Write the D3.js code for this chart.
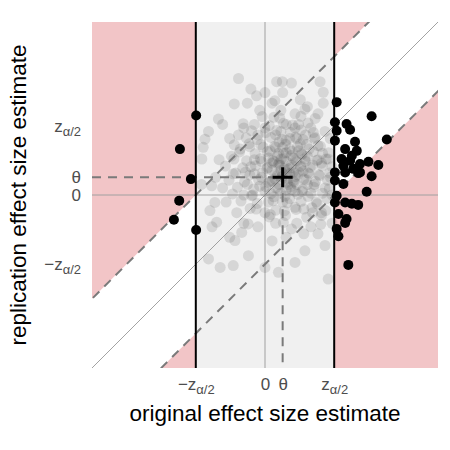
<!DOCTYPE html>
<html>
<head>
<meta charset="utf-8">
<script src="https://cdn.jsdelivr.net/npm/d3@7"></script>
<style>
  body { margin: 0; background: #fff; }
  text { font-family: "Liberation Sans", Arial, sans-serif; }
</style>
</head>
<body>
<svg id="chart" width="450" height="450"></svg>
<script>
// critical value and true effect
const zCrit = 1.96;
const theta = 0.5;
const band = 1.96; // half width of replication band around y = x

// non-significant originals (grey cloud)
const nonsigPoints = [
  [-0.75,3.30],[-0.40,3.00],[0.33,3.21],[0.49,3.21],[0.75,3.17],[1.56,3.21],[1.65,2.91],[-0.87,2.58],[-0.24,2.81],[0.28,2.67],
  [-1.32,2.15],[-1.70,1.58],[-1.75,1.35],[-1.79,1.02],[-1.51,0.26],[-1.42,-0.21],[-1.56,-0.44],[-1.37,-0.77],[-1.60,-1.81],[-1.27,-2.05],
  [-0.90,-2.00],[-0.47,-1.72],[0.00,-2.05],[0.38,-2.19],[0.85,-1.91],[1.13,-1.58],[1.70,-1.43],[1.79,-2.38],[-0.66,-1.06],[-0.85,-1.29],
  [0.75,-0.96],[1.60,-0.58],[1.79,1.02],[1.13,2.43],
  [0.5,0.6],[0.2,0.9],[0.8,0.4],[0.6,1.2],[0.3,0.2],[1.0,0.8],[-0.1,0.5],[0.7,-0.1],[1.2,1.1],[0.4,1.5],
  [-0.3,1.0],[0.9,1.6],[1.4,0.3],[0.1,-0.2],[-0.5,0.3],[1.1,-0.4],[0.6,2.0],[-0.2,1.7],[1.5,1.4],[0.0,0.1],
  [0.35,0.55],[0.75,0.85],[0.15,1.25],[1.25,0.6],[-0.4,0.8],[0.55,-0.45],[0.95,1.25],[-0.05,1.35],[1.6,0.9],[0.45,0.05],
  [-0.7,1.3],[-0.6,0.0],[1.7,0.2],[0.25,2.2],[0.85,2.3],[-0.9,0.6],[1.3,1.9],[0.65,0.3],[0.05,0.75],[1.05,0.1],
  [-0.25,-0.4],[0.3,-0.8],[0.9,-0.8],[1.45,-0.2],[1.8,1.2],[-1.0,1.6],[-0.3,2.0],[0.2,2.6],[1.0,2.7],[1.5,2.3],
  [-1.2,0.2],[-0.8,-0.5],[0.6,-1.2],[1.3,-0.9],[1.85,0.5],[-1.3,1.0],[-0.6,1.9],[0.5,2.9],[1.2,2.5],[1.7,1.8],
  [0.4,0.9],[0.7,0.6],[0.9,0.3],[0.2,0.4],[0.6,0.95],[1.1,0.45],[0.35,1.1],[0.8,1.05],[0.5,1.35],[1.0,1.45],
  [0.1,1.05],[-0.15,0.25],[0.25,-0.05],[0.75,0.15],[1.35,0.85],[1.55,0.55],[0.0,1.9],[0.45,1.8],[1.15,1.7],[-0.45,1.45],
  [-0.55,0.65],[0.85,-0.35],[0.15,-0.55],[1.6,-0.5],[1.9,0.0],[-1.1,-0.2],[-0.2,-0.9],[0.7,1.6],[0.3,1.7],[1.25,1.3],
  [0.55,0.75],[0.65,0.45],[0.4,0.3],[0.95,0.65],[0.2,0.7],[1.15,0.95],[0.85,1.9],[-0.1,0.95],[0.5,-0.2],[1.4,1.6],
  [1.9,0.8],[1.75,-0.1],[-0.35,0.0],[0.0,-0.5],[1.1,-1.1],[-0.75,1.7],[-1.4,0.5],[-1.6,1.8],[0.95,2.0],[1.65,2.6],
  [-0.95,1.1],[1.85,1.6],[0.6,1.55],[-0.15,2.4],[0.45,2.4],[1.3,0.05],[0.1,0.35],[0.8,0.65],[0.3,1.35],[0.9,0.95],
  [1.2,0.3],[0.6,0.15],[1.5,1.0],[-0.3,0.6],[0.7,1.3],[0.25,0.95],[1.05,1.15],[0.45,0.7],[0.85,0.1],[1.35,-0.5],
  [-0.6,-0.8],[-1.0,-1.2],[0.2,-1.3],[1.5,-1.1],[-1.5,-0.9],[-1.8,0.3],[1.9,-0.8],[-1.2,2.0],[0.0,2.9],[-0.5,2.6],
  [-0.42,-0.38],[0.31,-0.43],[0.88,-0.41],[1.33,-0.36],[1.72,-0.44],
  [-0.68,-0.17],[-0.22,-0.24],[0.23,-0.16],[0.63,-0.22],[1.02,-0.18],[1.48,-0.25],
  [-0.92,0.03],[-0.38,-0.02],[0.17,0.04],[0.57,-0.03],[0.93,0.02],[1.22,-0.04],[1.63,0.05],
  [-0.78,0.22],[-0.32,0.17],[0.02,0.24],[0.37,0.18],[0.72,0.23],[1.07,0.16],[1.38,0.22],[1.82,0.18],
  [-1.02,0.42],[-0.58,0.37],[-0.18,0.43],[0.13,0.38],[0.47,0.44],[0.82,0.37],[1.17,0.43],[1.43,0.38],[1.77,0.42],
  [-0.83,0.62],[-0.43,0.57],[-0.07,0.63],[0.28,0.58],[0.62,0.64],[0.92,0.57],[1.22,0.63],[1.52,0.58],[1.83,0.62],
  [-1.12,0.82],[-0.63,0.77],[-0.27,0.83],[0.08,0.78],[0.43,0.84],[0.72,0.77],[1.02,0.83],[1.28,0.78],[1.62,0.82],
  [-0.88,1.02],[-0.52,0.97],[-0.13,1.03],[0.22,0.98],[0.53,1.04],[0.87,0.97],[1.13,1.03],[1.47,0.98],[1.73,1.02],
  [-0.72,1.22],[-0.28,1.17],[0.07,1.23],[0.38,1.18],[0.77,1.24],[1.03,1.17],[1.37,1.23],[1.63,1.18],
  [-0.87,1.42],[-0.43,1.37],[-0.12,1.43],[0.27,1.38],[0.58,1.44],[0.92,1.37],[1.18,1.43],[1.57,1.38],
  [-0.53,1.62],[-0.22,1.57],[0.17,1.63],[0.48,1.58],[0.87,1.64],[1.08,1.57],[1.42,1.63],
  [-0.38,1.82],[0.02,1.77],[0.33,1.83],[0.72,1.78],[1.02,1.84],[1.37,1.77],
  [-0.62,2.02],[0.12,1.97],[0.52,2.03],[0.78,1.98],[1.22,2.04],
  [-0.08,2.22],[0.42,2.18],[1.02,2.23],[1.42,2.17],
  [0.12,-0.62],[0.58,-0.58],[1.18,-0.63],
  [-0.48,-0.82],[0.52,-0.78],[1.58,-0.83],
  [0.48,0.52],[0.66,0.74],[0.38,0.86],[0.74,1.12],[0.52,1.18],[0.86,0.52],[0.28,0.46],[1.08,0.68],[0.62,0.36],[0.46,1.02]
];

// significant originals (black)
const sigPoints = [
  [2.03,2.63],[1.98,2.06],[2.31,2.01],[2.41,1.85],[2.03,1.82],[3.02,2.23],[1.98,1.54],[2.55,1.51],[3.45,1.57],[2.27,1.30],
  [2.60,1.25],[2.46,1.11],[2.17,1.02],[2.41,0.97],[2.69,0.88],[2.93,0.94],[3.21,0.85],[2.22,0.83],[2.50,0.74],[1.98,0.64],
  [2.64,0.62],[3.02,0.53],[2.27,0.64],[2.69,0.64],[1.98,0.41],[2.22,0.31],[2.88,0.09],[2.03,-0.02],[1.98,-0.21],[2.27,-0.21],
  [2.46,-0.25],[2.64,-0.28],[2.08,-0.54],[2.31,-0.68],[2.27,-0.79],[2.03,-0.96],[2.08,-1.17],[2.36,-1.98],
  [-1.95,2.25],[-2.41,1.30],[-2.10,0.45],[-2.43,-0.16],[-2.58,-0.70],[-1.95,-0.99]
];

const lim = 4.9;
const svg = d3.select('#chart');
const x = d3.scaleLinear().domain([-lim, lim]).range([92, 438]);
const y = d3.scaleLinear().domain([-lim, lim]).range([368, 22]);

svg.append('clipPath').attr('id', 'plotclip')
  .append('rect')
  .attr('x', x(-lim)).attr('y', y(lim))
  .attr('width', x(lim) - x(-lim)).attr('height', y(-lim) - y(lim));

const plot = svg.append('g').attr('clip-path', 'url(#plotclip)');

// pink everywhere, then white band around y = x, then grey non-significant strip
plot.append('rect')
  .attr('x', x(-lim)).attr('y', y(lim))
  .attr('width', x(lim) - x(-lim)).attr('height', y(-lim) - y(lim))
  .attr('fill', '#f2c5c7');

const big = 10;
plot.append('path')
  .attr('d', d3.line()([[-big, -big - band], [big, big - band], [big, big + band], [-big, -big + band]].map(d => [x(d[0]), y(d[1])])) + 'Z')
  .attr('fill', '#ffffff');

plot.append('rect')
  .attr('x', x(-zCrit)).attr('y', y(lim))
  .attr('width', x(zCrit) - x(-zCrit)).attr('height', y(-lim) - y(lim))
  .attr('fill', '#f0f0f0');

// zero lines
plot.append('line').attr('x1', x(0)).attr('x2', x(0)).attr('y1', y(lim)).attr('y2', y(-lim))
  .attr('stroke', '#a0a0a0').attr('stroke-width', 1);
plot.append('line').attr('x1', x(-lim)).attr('x2', x(lim)).attr('y1', y(0)).attr('y2', y(0))
  .attr('stroke', '#a0a0a0').attr('stroke-width', 1);

// identity line
plot.append('line').attr('x1', x(-lim)).attr('y1', y(-lim)).attr('x2', x(lim)).attr('y2', y(lim))
  .attr('stroke', '#8c8c8c').attr('stroke-width', 0.8);

// points
plot.append('g').selectAll('circle')
  .data(nonsigPoints)
  .enter().append('circle')
  .attr('cx', d => x(d[0]))
  .attr('cy', d => y(d[1]))
  .attr('r', 5.5)
  .attr('fill', '#444')
  .attr('fill-opacity', 0.15);

// band edges
[band, -band].forEach(c => {
  plot.append('line')
    .attr('x1', x(-big)).attr('y1', y(-big + c)).attr('x2', x(big)).attr('y2', y(big + c))
    .attr('stroke', '#7a7a7a').attr('stroke-width', 2).attr('stroke-dasharray', '9,7');
});

// theta guides
plot.append('line').attr('x1', x(-lim)).attr('x2', x(theta)).attr('y1', y(theta)).attr('y2', y(theta))
  .attr('stroke', '#7a7a7a').attr('stroke-width', 2).attr('stroke-dasharray', '9,7');
plot.append('line').attr('x1', x(theta)).attr('x2', x(theta)).attr('y1', y(theta)).attr('y2', y(-lim))
  .attr('stroke', '#7a7a7a').attr('stroke-width', 2).attr('stroke-dasharray', '9,7');

// significance thresholds
[-zCrit, zCrit].forEach(v => {
  plot.append('line').attr('x1', x(v)).attr('x2', x(v)).attr('y1', y(lim)).attr('y2', y(-lim))
    .attr('stroke', '#000').attr('stroke-width', 2);
});

plot.append('g').selectAll('circle')
  .data(sigPoints)
  .enter().append('circle')
  .attr('cx', d => x(d[0]))
  .attr('cy', d => y(d[1]))
  .attr('r', 5)
  .attr('fill', '#000');

// plus at (theta, theta)
const arm = 10;
svg.append('path')
  .attr('d', `M${x(theta) - arm},${y(theta)}H${x(theta) + arm}M${x(theta)},${y(theta) - arm}V${y(theta) + arm}`)
  .attr('stroke', '#000').attr('stroke-width', 3);

// axes with math-style labels
const tickVals = [-zCrit, 0, theta, zCrit];
function label(sel, v) {
  sel.text(null);
  if (v === 0) { sel.append('tspan').text('0'); return; }
  if (v === theta) { sel.append('tspan').text('θ'); return; }
  sel.append('tspan').text(v < 0 ? '−z' : 'z');
  sel.append('tspan').attr('font-size', 13).attr('dy', '0.3em').text('α/2');
}

const xAxis = svg.append('g')
  .attr('transform', `translate(0,${y(-lim)})`)
  .call(d3.axisBottom(x).tickValues(tickVals).tickSize(0).tickPadding(10));
xAxis.select('.domain').remove();
xAxis.selectAll('text')
  .attr('font-size', 17).attr('fill', '#4d4d4d').attr('font-family', '"Liberation Sans", Arial, sans-serif')
  .each(function (v) { label(d3.select(this), v); });

const yAxis = svg.append('g')
  .attr('transform', `translate(${x(-lim)},0)`)
  .call(d3.axisLeft(y).tickValues(tickVals).tickSize(0).tickPadding(11));
yAxis.select('.domain').remove();
yAxis.selectAll('text')
  .attr('font-size', 17).attr('fill', '#4d4d4d').attr('font-family', '"Liberation Sans", Arial, sans-serif')
  .each(function (v) { label(d3.select(this), v); });

// titles
svg.append('text')
  .attr('x', x(0)).attr('y', 421)
  .attr('text-anchor', 'middle')
  .attr('font-size', 22.5)
  .text('original effect size estimate');

svg.append('text')
  .attr('transform', `translate(26,${y(0)}) rotate(-90)`)
  .attr('text-anchor', 'middle')
  .attr('font-size', 22.5)
  .text('replication effect size estimate');
</script>
</body>
</html>
